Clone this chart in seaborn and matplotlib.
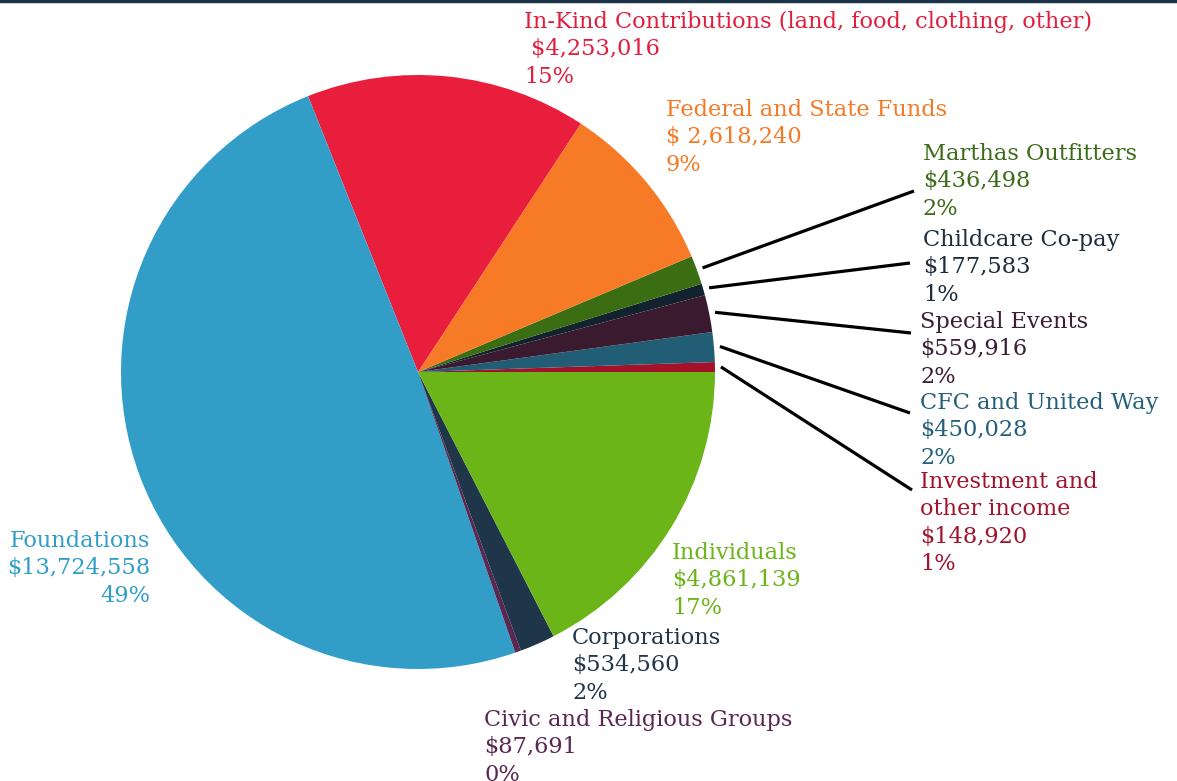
import matplotlib
matplotlib.use("Agg")
import matplotlib.pyplot as plt
import numpy as np
import seaborn as sns

sns.set_theme(style="white")
plt.rcParams['font.family'] = ['DejaVu Serif', 'DejaVu Sans']

# %% data (counter-clockwise from 3 o'clock)
categories = ['Investment and\nother income', 'CFC and United Way', 'Special Events',
              'Childcare Co-pay', 'Marthas Outfitters', 'Federal and State Funds',
              'In-Kind Contributions (land, food, clothing, other)', 'Foundations',
              'Civic and Religious Groups', 'Corporations', 'Individuals']
amounts = [148920, 450028, 559916, 177583, 436498, 2618240,
           4253016, 13724558, 87691, 534560, 4861139]
amount_labels = ['$148,920', '$450,028', '$559,916', '$177,583', '$436,498', '$ 2,618,240',
                 ' $4,253,016', '$13,724,558', '$87,691', '$534,560', '$4,861,139']
pct_labels = ['1%', '2%', '2%', '1%', '2%', '9%', '15%', '49%', '0%', '2%', '17%']
slice_colors = ['#a3112a', '#215e76', '#3a1a2e', '#13222f', '#3b6e12', '#f77a26',
                '#e91d3c', '#329ec8', '#5a2750', '#1f364a', '#6bb519']
text_colors = ['#a0142d', '#24607a', '#3a1f35', '#1f2d3b', '#3d6b18', '#f47a26',
               '#e01e3e', '#329ec8', '#5a2750', '#22364a', '#6bb519']

# %% layout (pixel positions, y measured from top)
W, H = 1177, 781
cx, cy, r = 418, 372, 297
label_pos = [(920, 469), (920, 390), (920, 309), (923, 227), (923, 141), (666, 97),
             (524, 9), (150, 528), (484, 707), (572, 625), (672, 540)]
label_ha = ['left'] * 7 + ['right'] + ['left'] * 3
leader_end = {0: (912, 490), 1: (910, 413), 2: (911, 333), 3: (910, 263), 4: (914, 191)}
step = 27.3

fig = plt.figure(figsize=(W / 100, H / 100), dpi=100)
ax = fig.add_axes([0, 0, 1, 1])

wedges, _ = ax.pie(amounts, colors=slice_colors, startangle=0, counterclock=True,
                   center=(cx, H - cy), radius=r, frame=True,
                   wedgeprops=dict(linewidth=0))
ax.set_xlim(0, W)
ax.set_ylim(0, H)
ax.axis('off')

fs = 16.2
for i, cat in enumerate(categories):
    x, y = label_pos[i]
    lines = cat.split('\n') + [amount_labels[i], pct_labels[i]]
    for k, line in enumerate(lines):
        ax.text(x, H - (y + 13 + k * step), line, ha=label_ha[i], va='center',
                fontsize=fs, color=text_colors[i])

# leader lines for the thin slices on the right
for i, (ex, ey) in leader_end.items():
    w = wedges[i]
    mid = np.deg2rad((w.theta1 + w.theta2) / 2)
    sx = cx + (r + 6) * np.cos(mid)
    sy = (H - cy) + (r + 6) * np.sin(mid)
    ax.plot([sx, ex], [sy, H - ey], color='black', lw=2.3, solid_capstyle='butt')

# top border
ax.plot([0, W], [H - 1, H - 1], color='#1a3347', lw=2.5)

plt.savefig('out.png', dpi=100)
